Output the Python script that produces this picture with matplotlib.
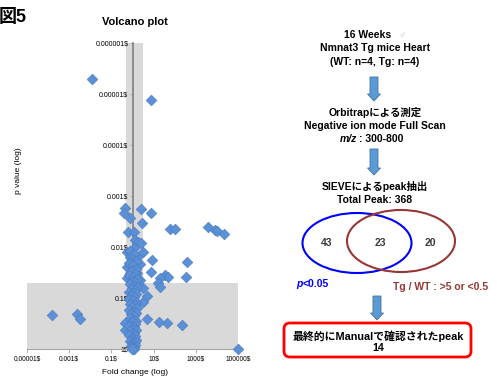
import numpy as np
import matplotlib.pyplot as plt
from matplotlib.patches import Ellipse, FancyArrow, FancyBboxPatch
from matplotlib.ticker import NullLocator

# volcano plot data
fold_change = [0.012, 7.5, 0.44, 0.40, 0.76, 2.5, 7.5, 2.8, 0.61, 1.18,
               60, 103, 3800, 8100, 10000, 21800, 1.3, 1.8, 2.5, 1.18,
               0.55, 3.1, 0.76, 1.6, 8.4, 380, 0.55, 1.05, 2.3, 7.5,
               0.76, 1.6, 35, 48, 20, 345, 0.55, 2.3, 16, 20,
               3.1, 4.9, 3.1, 1.5e-4, 2.3e-3, 3.3e-3, 4.9, 18, 43, 220,
               0.44, 0.44, 1e5,
               0.8, 1.2, 0.9, 1.5, 0.7, 1.1, 1.4, 0.85, 1.25, 0.65,
               1.05, 1.6, 0.9, 1.3, 0.75, 1.15, 1.7, 0.95, 1.35, 0.7,
               1.1, 1.5, 0.85, 1.2, 0.65, 1.0, 1.45, 0.8, 1.25, 0.95,
               1.6, 0.7, 1.1, 1.4, 0.85, 1.2, 0.75, 1.05, 1.5, 0.9,
               1.3, 0.65, 1.15, 0.95, 1.4, 0.8, 1.2, 1.0, 0.7, 1.35,
               0.9, 1.1, 1.5, 0.8, 1.25, 0.95, 1.05, 1.3, 0.85, 1.15,
               0.9, 1.1, 1.0, 1.2, 0.95]
p_value = [5.1e-6, 1.3e-5, 1.7e-3, 2.2e-3, 2.7e-3, 1.8e-3, 2.2e-3, 3.4e-3, 5.1e-3, 5.1e-3,
           4.4e-3, 4.4e-3, 4.0e-3, 4.7e-3, 4.9e-3, 5.6e-3, 7.3e-3, 8.0e-3, 8.4e-3, 0.0105,
           0.0125, 0.0125, 0.0158, 0.0158, 0.018, 0.020, 0.025, 0.025, 0.022, 0.031,
           0.032, 0.032, 0.035, 0.039, 0.041, 0.039, 0.041, 0.044, 0.051, 0.061,
           0.064, 0.091, 0.12, 0.215, 0.21, 0.26, 0.26, 0.30, 0.31, 0.34,
           0.31, 0.42, 1.0,
           0.012, 0.014, 0.017, 0.019, 0.021, 0.023, 0.027, 0.029, 0.034, 0.036,
           0.038, 0.042, 0.046, 0.049, 0.053, 0.057, 0.06, 0.065, 0.07, 0.075,
           0.08, 0.085, 0.09, 0.097, 0.105, 0.11, 0.12, 0.13, 0.14, 0.15,
           0.16, 0.17, 0.185, 0.2, 0.21, 0.23, 0.25, 0.27, 0.28, 0.3,
           0.32, 0.35, 0.37, 0.4, 0.42, 0.45, 0.48, 0.5, 0.53, 0.56,
           0.6, 0.63, 0.66, 0.7, 0.73, 0.77, 0.8, 0.84, 0.87, 0.9,
           0.93, 0.96, 0.98, 0.99, 1.0]

x_ticks = [1e-5, 1e-3, 1e-1, 1e1, 1e3, 1e5]
x_tick_labels = ['0.00001$', '0.001$', '0.1$', '10$', '1000$', '100000$']
y_ticks = [1e-6, 1e-5, 1e-4, 1e-3, 1e-2, 1e-1, 1]
y_tick_labels = ['0.000001$', '0.00001$', '0.0001$', '0.001$', '0.01$', '0.1$', '1$']

venn_counts = [43, 23, 20]
total_peak = 368
final_peak = 14

fonts = ['Liberation Sans', 'Noto Sans CJK JP', 'DejaVu Sans']
plt.rcParams['font.family'] = fonts

fig = plt.figure(figsize=(4.97, 3.76), dpi=100)

ax = fig.add_axes([27/497, 1-349/376, 211/497, 306/376])
ax.set_xscale('log')
ax.set_yscale('log')
ax.set_xlim(1e-5, 1e5)
ax.set_ylim(1, 1e-6)
ax.axvspan(0.5, 3.2, color='#D9D9D9', zorder=0, lw=0)
ax.axhspan(0.05, 1, color='#D9D9D9', zorder=0, lw=0)
ax.scatter(fold_change, p_value, marker='D', s=30, c='#5B8FD6',
           edgecolors='#4A7CC0', linewidths=0.4, zorder=3, clip_on=False)

for s in ['top', 'right']:
    ax.spines[s].set_visible(False)
ax.spines['left'].set_position(('data', 1))
ax.spines['left'].set_color('#7F7F7F')
ax.spines['left'].set_linewidth(1.2)
ax.spines['bottom'].set_color('#A6A6A6')
ax.set_xticks(x_ticks)
ax.set_xticklabels(x_tick_labels, fontsize=4.8)
ax.set_yticks(y_ticks)
ax.set_yticklabels(y_tick_labels, fontsize=5)
ax.xaxis.set_minor_locator(NullLocator())
ax.yaxis.set_minor_locator(NullLocator())
ax.tick_params(axis='x', length=3, width=0.6, color='#A6A6A6', pad=2)
ax.tick_params(axis='y', length=2, width=0.6, color='#A6A6A6', pad=1)
ax.patch.set_alpha(0)

# overlay in pixel coords for the labels and flowchart
ov = fig.add_axes([0, 0, 1, 1])
ov.set_xlim(0, 497)
ov.set_ylim(376, 0)
ov.axis('off')
ov.patch.set_alpha(0)

ov.text(-1, 17, '図5', fontsize=13, fontweight='bold', va='center', ha='left')
ov.text(135, 22, 'Volcano plot', fontsize=8, fontweight='bold', ha='center', va='center')
ov.text(18, 171, 'p value (log)', fontsize=6, rotation=90, ha='center', va='center')
ov.text(135, 372, 'Fold change (log)', fontsize=6, ha='center', va='center')

cx = 375
bold = dict(fontsize=7.5, fontweight='bold', ha='center', va='center')
ov.text(368, 35, '16 Weeks', **bold)
ov.text(402, 35, '♂', fontsize=7, color='#C8C8C8', ha='center', va='center')
ov.text(cx, 48, 'Nmnat3 Tg mice Heart', **bold)
ov.text(cx, 62, '(WT: n=4, Tg: n=4)', **bold)
ov.text(cx, 112, 'Orbitrapによる測定', **bold)
ov.text(cx, 126, 'Negative ion mode Full Scan', **bold)
ov.text(357, 139, 'm/z', fontsize=7.5, fontweight='bold', style='italic', ha='right', va='center')
ov.text(359, 139, ': 300-800', fontsize=7.5, fontweight='bold', ha='left', va='center')
ov.text(cx, 187, 'SIEVEによるpeak抽出', **bold)
ov.text(cx, 200, f'Total Peak: {total_peak}', **bold)

for y0, y1, x0 in [(77, 101, 374), (149, 175, 374), (296, 320, 377)]:
    ov.add_patch(FancyArrow(x0, y0, 0, y1 - y0, width=8, head_width=13,
                            head_length=7, length_includes_head=True,
                            fc='#5B9BD5', ec='#41719C', lw=0.6))

ov.add_patch(Ellipse((357, 243), 109, 60, fill=False, ec='#0000FF', lw=1.5))
ov.add_patch(Ellipse((401, 241), 108, 62, fill=False, ec='#953735', lw=1.5))
for x0, n in zip([327, 380, 430], venn_counts):
    ov.text(x0, 243, str(n), fontsize=7.5, fontweight='bold', ha='center', va='center',
            color='#3A3A3A')

ov.text(303, 284, 'p', fontsize=7.5, fontweight='bold', style='italic', color='#0000FF',
        ha='right', va='center')
ov.text(303, 284, '<0.05', fontsize=7.5, fontweight='bold', color='#0000FF',
        ha='left', va='center')
ov.text(441, 287, 'Tg / WT : >5 or <0.5', fontsize=7.5, fontweight='bold',
        color='#953735', ha='center', va='center')

ov.add_patch(FancyBboxPatch((284, 323), 187, 34, boxstyle='round,pad=0,rounding_size=6',
                            fill=False, ec='#FF0000', lw=2))
ov.text(378, 336, '最終的にManualで確認されたpeak', fontsize=7.8, fontweight='bold',
        ha='center', va='center')
ov.text(378, 348, str(final_peak), fontsize=7.8, fontweight='bold', ha='center', va='center')

fig.savefig('out.png', dpi=100)
